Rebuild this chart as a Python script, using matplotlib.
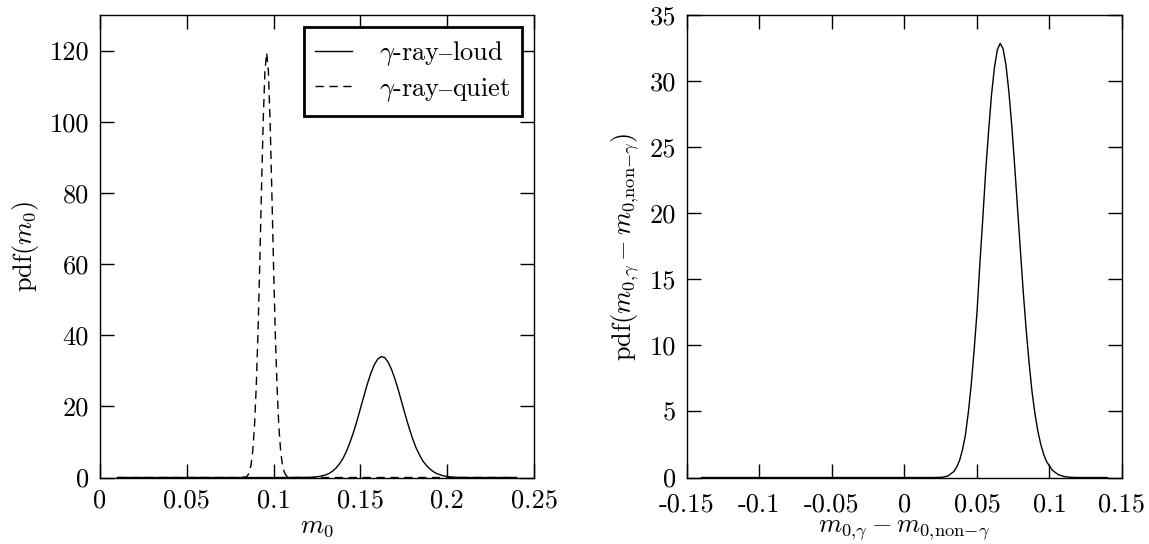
import matplotlib
matplotlib.use("Agg")
import matplotlib.pyplot as plt
from matplotlib.ticker import FuncFormatter, MultipleLocator

plt.rcParams["font.family"] = ["cmr10", "DejaVu Serif"]
plt.rcParams["mathtext.fontset"] = "cm"
plt.rcParams["axes.unicode_minus"] = False
plt.rcParams["axes.formatter.use_mathtext"] = True

# left panel: pdf(m0) for the two samples
loud_x = [0.010, 0.100, 0.122, 0.126, 0.130, 0.132, 0.134, 0.136, 0.138,
          0.140, 0.142, 0.144, 0.146, 0.148, 0.150, 0.152, 0.154, 0.156,
          0.158, 0.160, 0.162, 0.164, 0.166, 0.168, 0.170, 0.172, 0.174,
          0.176, 0.178, 0.180, 0.182, 0.184, 0.186, 0.188, 0.190, 0.192,
          0.194, 0.198, 0.202, 0.206, 0.212, 0.240]
loud_y = [0.0, 0.0, 0.05, 0.27, 0.73, 1.16, 1.8, 2.67, 3.9,
          5.4, 7.4, 9.9, 12.7, 15.9, 19.4, 22.9, 26.3, 29.3,
          31.7, 33.3, 34.0, 33.7, 32.4, 30.3, 27.5, 24.3, 20.8,
          17.3, 14.0, 11.0, 8.4, 6.4, 4.6, 3.4, 2.4, 1.65,
          1.1, 0.45, 0.15, 0.05, 0.0, 0.0]

quiet_x = [0.010, 0.080, 0.084, 0.085, 0.086, 0.087, 0.088, 0.089, 0.090,
           0.091, 0.092, 0.093, 0.094, 0.095, 0.096, 0.097, 0.098, 0.099,
           0.100, 0.101, 0.102, 0.103, 0.104, 0.105, 0.106, 0.107, 0.108,
           0.110, 0.240]
quiet_y = [0.0, 0.0, 0.15, 0.5, 1.5, 3.5, 7.5, 14.5, 25.5,
           40.5, 59.5, 80.5, 100.0, 114.2, 119.4, 114.2, 99.8, 80.0,
           59.0, 40.0, 25.5, 14.5, 7.8, 3.8, 1.7, 0.7, 0.25,
           0.0, 0.0]

# right panel: pdf of the difference
diff_x = [-0.140, 0.020, 0.026, 0.030, 0.034, 0.036, 0.038, 0.040, 0.042,
          0.044, 0.046, 0.048, 0.050, 0.052, 0.054, 0.056, 0.058, 0.060,
          0.062, 0.064, 0.066, 0.068, 0.070, 0.072, 0.074, 0.076, 0.078,
          0.080, 0.082, 0.084, 0.086, 0.088, 0.090, 0.092, 0.094, 0.096,
          0.098, 0.102, 0.106, 0.110, 0.114, 0.120, 0.140]
diff_y = [0.0, 0.0, 0.02, 0.12, 0.45, 0.8, 1.3, 2.1, 3.2,
          4.9, 7.0, 9.6, 12.5, 16.2, 19.6, 23.2, 26.2, 28.95,
          31.0, 32.36, 32.85, 32.45, 31.2, 29.19, 26.6, 23.56, 20.3,
          17.06, 13.9, 11.08, 8.6, 6.45, 4.8, 3.5, 2.5, 1.75,
          1.2, 0.55, 0.22, 0.08, 0.02, 0.0, 0.0]

FS = 19


def fmt(v, pos):
    return "%g" % round(v, 4)


def style_axes(ax, xpad=8):
    ax.tick_params(direction="in", length=10, width=1, top=True, right=True,
                   labelsize=FS, pad=8)
    ax.tick_params(axis="x", pad=xpad)
    ax.xaxis.set_major_formatter(FuncFormatter(fmt))
    ax.yaxis.set_major_formatter(FuncFormatter(fmt))
    for s in ax.spines.values():
        s.set_linewidth(1.0)


fig = plt.figure(figsize=(11.49, 5.44), dpi=100)
ax1 = fig.add_axes([0.0870, 0.1222, 0.3778, 0.8502])
ax2 = fig.add_axes([0.5979, 0.1222, 0.3786, 0.8502])

ax1.plot(loud_x, loud_y, "k-", lw=1.0, label=r"$\gamma$-ray$\mathrm{–}$loud")
ax1.plot(quiet_x, quiet_y, color="k", lw=1.0, linestyle=(0, (6, 4)),
         label=r"$\gamma$-ray$\mathrm{–}$quiet")
ax1.set_xlim(0, 0.25)
ax1.set_ylim(0, 130)
ax1.xaxis.set_major_locator(MultipleLocator(0.05))
ax1.set_yticks([0, 20, 40, 60, 80, 100, 120])
ax1.set_xlabel(r"$m_0$", fontsize=FS, labelpad=2)
ax1.set_ylabel(r"pdf$(m_0)$", fontsize=FS, labelpad=6)
style_axes(ax1)
leg = ax1.legend(loc="upper right", fontsize=FS, fancybox=False,
                 framealpha=1, handlelength=1.4, handletextpad=1.0,
                 borderpad=0.45, labelspacing=0.3, borderaxespad=0.45)
leg.get_frame().set_edgecolor("k")
leg.get_frame().set_linewidth(2.0)

ax2.plot(diff_x, diff_y, "k-", lw=1.0)
ax2.set_xlim(-0.15, 0.15)
ax2.set_ylim(0, 35)
ax2.xaxis.set_major_locator(MultipleLocator(0.05))
ax2.yaxis.set_major_locator(MultipleLocator(5))
ax2.set_xlabel(r"$m_{0{,}\gamma} - m_{0{,}\mathrm{non}{-}\gamma}$",
               fontsize=FS, labelpad=1)
ax2.set_ylabel(r"pdf$(m_{0{,}\gamma} - m_{0{,}\mathrm{non}{-}\gamma})$",
               fontsize=FS, labelpad=6)
style_axes(ax2, xpad=11)

fig.savefig("out.png", dpi=100)
